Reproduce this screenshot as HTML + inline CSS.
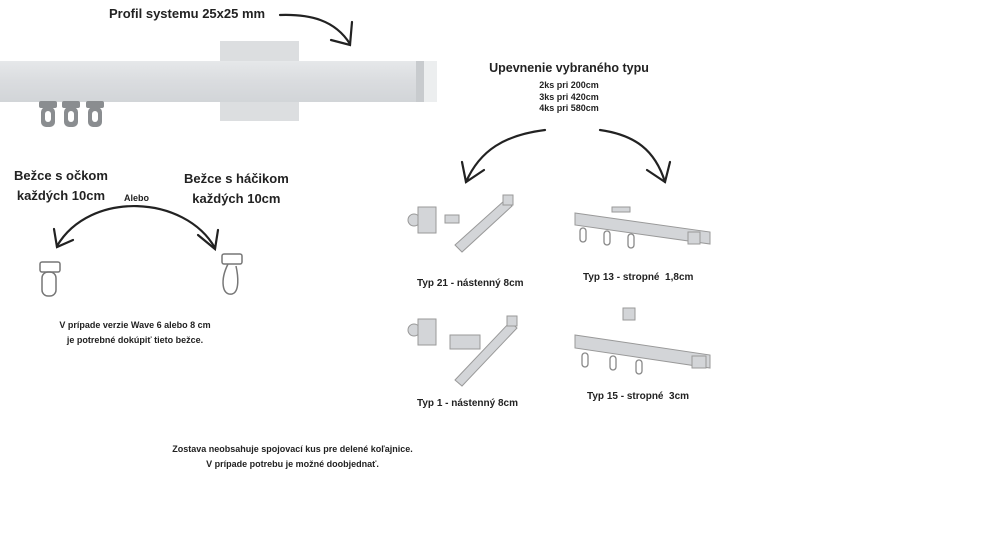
<!DOCTYPE html>
<html><head><meta charset="utf-8"><style>
body{margin:0;width:1000px;height:540px;background:#fff;position:relative;overflow:hidden;font-family:"Liberation Sans",sans-serif;font-weight:bold;color:#222}
.t{position:absolute;white-space:nowrap;text-align:center}
</style></head><body>
<svg width="1000" height="540" style="position:absolute;left:0;top:0">
<defs>
<linearGradient id="rail" x1="0" y1="0" x2="0" y2="1"><stop offset="0" stop-color="#e6e8ea"/><stop offset="0.5" stop-color="#dadcdf"/><stop offset="1" stop-color="#d2d5d8"/></linearGradient>
</defs>
<rect x="220" y="41" width="79" height="80" fill="#dcdee0"/>
<rect x="0" y="61" width="417" height="41" fill="url(#rail)"/>
<rect x="416" y="61" width="8" height="41" fill="#c8cbce"/>
<rect x="424" y="61" width="13" height="41" fill="#eceeef"/>
<g fill="#8a8d90">
<rect x="39" y="101" width="18" height="7" rx="2"/><rect x="41" y="107" width="14" height="20" rx="5"/>
<rect x="62" y="101" width="18" height="7" rx="2"/><rect x="64" y="107" width="14" height="20" rx="5"/>
<rect x="86" y="101" width="18" height="7" rx="2"/><rect x="88" y="107" width="14" height="20" rx="5"/>
</g>
<g fill="#fff"><rect x="45" y="111" width="6" height="11" rx="3"/><rect x="68" y="111" width="6" height="11" rx="3"/><rect x="92" y="111" width="6" height="11" rx="3"/></g>
<g fill="none" stroke="#222" stroke-width="2.2" stroke-linecap="round">
<path d="M280 15 C310 14 335 20 350 44"/><path d="M331 40 L350 45 L352 22"/>
<path d="M215 248 C185 195 90 190 57 246"/><path d="M54 229 L57 247 L73 240"/>
<path d="M198 235 L215 249 L218 230"/>
<path d="M545 130 C505 135 480 150 466 182"/><path d="M462 162 L466 182 L484 170"/>
<path d="M600 130 C635 135 655 150 665 182"/><path d="M647 170 L665 182 L670 162"/>
</g>
<g fill="none" stroke="#777" stroke-width="1.5">
<rect x="40" y="262" width="20" height="10" rx="2"/><rect x="42" y="272" width="14" height="24" rx="6"/>
<rect x="222" y="254" width="20" height="10" rx="2"/><path d="M228 264 C220 280 222 296 232 294 C240 292 238 275 236 266"/>
</g>
<g fill="#d3d5d8" stroke="#999" stroke-width="1">
<circle cx="414" cy="220" r="6"/><rect x="418" y="207" width="18" height="26"/><rect x="445" y="215" width="14" height="8"/>
<path d="M455 245 L505 200 L512 206 L462 252 Z"/><rect x="503" y="195" width="10" height="10"/>
<circle cx="414" cy="330" r="6"/><rect x="418" y="319" width="18" height="26"/><rect x="450" y="335" width="30" height="14"/>
<path d="M455 380 L510 322 L517 328 L462 386 Z"/><rect x="507" y="316" width="10" height="10"/>
<path d="M575 213 L710 232 L710 244 L575 225 Z"/><rect x="688" y="232" width="12" height="12"/><rect x="612" y="207" width="18" height="5"/>
<path d="M575 335 L710 355 L710 368 L575 348 Z"/><rect x="692" y="356" width="14" height="12"/><rect x="623" y="308" width="12" height="12"/>
</g>
<g fill="none" stroke="#888" stroke-width="1.3">
<rect x="580" y="228" width="6" height="14" rx="3"/><rect x="604" y="231" width="6" height="14" rx="3"/><rect x="628" y="234" width="6" height="14" rx="3"/>
<rect x="582" y="353" width="6" height="14" rx="3"/><rect x="610" y="356" width="6" height="14" rx="3"/><rect x="636" y="360" width="6" height="14" rx="3"/>
</g>
</svg>
<div class="t" style="left:109px;top:6px;font-size:13px">Profil systemu 25x25 mm</div>
<div class="t" style="left:14px;top:166px;font-size:13px;line-height:20px">Bežce s očkom<br>každých 10cm</div>
<div class="t" style="left:184px;top:169px;font-size:13px;line-height:20px">Bežce s háčikom<br>každých 10cm</div>
<div class="t" style="left:124px;top:193px;font-size:9px">Alebo</div>
<div class="t" style="left:40px;top:318px;font-size:9px;line-height:15px;width:190px">V prípade verzie Wave 6 alebo 8 cm<br>je potrebné dokúpiť tieto bežce.</div>
<div class="t" style="left:150px;top:442px;font-size:9px;line-height:15px;width:285px">Zostava neobsahuje spojovací kus pre delené koľajnice.<br>V prípade potrebu je možné doobjednať.</div>
<div class="t" style="left:480px;top:61px;font-size:12.5px;width:178px">Upevnenie vybraného typu</div>
<div class="t" style="left:520px;top:80px;font-size:9px;line-height:11.5px;width:98px">2ks pri 200cm<br>3ks pri 420cm<br>4ks pri 580cm</div>
<div class="t" style="left:417px;top:278px;font-size:10px">Typ 21 - nástenný 8cm</div>
<div class="t" style="left:583px;top:272px;font-size:10px">Typ 13 - stropné &nbsp;1,8cm</div>
<div class="t" style="left:417px;top:398px;font-size:10px">Typ 1 - nástenný 8cm</div>
<div class="t" style="left:587px;top:391px;font-size:10px">Typ 15 - stropné &nbsp;3cm</div>
</body></html>
